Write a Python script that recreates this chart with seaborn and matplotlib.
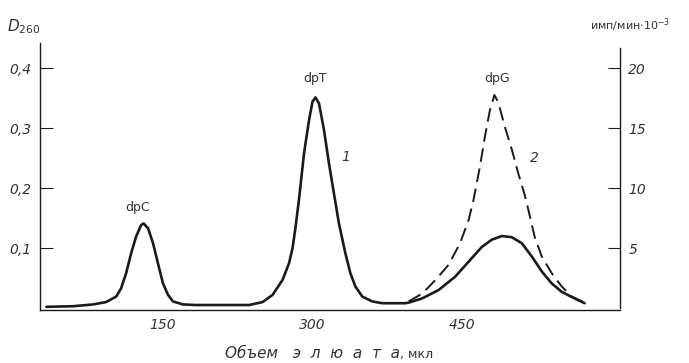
import seaborn as sns
import matplotlib.pyplot as plt

# Кривая 1: оптическая плотность D260 (левая ось)
vol_1 = [33, 60, 80, 93, 103, 108, 113, 118, 123, 128, 130.5, 135, 140, 145, 150,
         155, 160, 170, 183, 210, 236.5, 250, 260, 270, 276.5, 280, 283, 286.5,
         291.5, 296.5, 300, 303, 306.5, 311.5, 316.5, 321.5, 326.5, 333, 338, 343,
         350, 360, 370, 393, 396.5, 410, 426.5, 443, 456.5, 470, 480, 490, 500,
         510, 520, 530, 540, 550, 563, 573]
d260 = [0.002, 0.003, 0.006, 0.010, 0.019, 0.033, 0.058, 0.091, 0.119, 0.138,
        0.141, 0.133, 0.108, 0.074, 0.041, 0.022, 0.011, 0.006, 0.005, 0.005,
        0.005, 0.010, 0.022, 0.047, 0.075, 0.100, 0.135, 0.182, 0.258, 0.313,
        0.344, 0.351, 0.341, 0.297, 0.241, 0.191, 0.141, 0.091, 0.058, 0.036,
        0.019, 0.011, 0.008, 0.008, 0.009, 0.016, 0.030, 0.052, 0.077, 0.102,
        0.114, 0.120, 0.118, 0.108, 0.086, 0.061, 0.041, 0.027, 0.016, 0.008]

# Кривая 2: радиоактивность, имп/мин·10^-3 (правая ось)
vol_2 = [396.5, 410, 423, 436.5, 448, 456.5, 461.5, 468, 473, 478, 482.5, 486.5,
         493, 500, 506.5, 513, 516.5, 523, 530, 540, 550, 560, 573]
imp = [0.55, 1.2, 2.3, 3.6, 5.4, 7.3, 9.0, 11.8, 14.3, 16.5, 17.75, 17.1,
       15.1, 13.2, 11.2, 9.4, 8.2, 5.9, 4.3, 2.9, 1.8, 0.95, 0.45]

x_ticks = [150, 300, 450]
left_ticks = [0.1, 0.2, 0.3, 0.4]
left_labels = ['0,1', '0,2', '0,3', '0,4']
right_ticks = [5, 10, 15, 20]

sns.set_style('white')
plt.rcParams['font.family'] = ['DejaVu Sans']
ink = '#1a1a1a'
txt = '#333333'

fig = plt.figure(figsize=(6.89, 3.63), dpi=100)
ax = fig.add_axes([40 / 689, 1 - 310 / 363, 580 / 689, 267 / 363])
sns.lineplot(x=vol_1, y=d260, ax=ax, color=ink, lw=1.9, sort=False, estimator=None)
ax.set_xlim(26.6, 608.5)
ax.set_ylim(-0.0033, 0.4417)

ax2 = ax.twinx()
sns.lineplot(x=vol_2, y=imp, ax=ax2, color=ink, lw=1.4, linestyle=(0, (7, 3.5)),
             sort=False, estimator=None)
ax2.set_ylim(-0.0033 * 50, 0.4417 * 50)

# оси
for s in ['top', 'right']:
    ax.spines[s].set_visible(False)
for s in ['top', 'left', 'bottom']:
    ax2.spines[s].set_visible(False)
ax2.spines['right'].set_bounds(0, 21.67)
for s in ['left', 'bottom']:
    ax.spines[s].set_color(ink)
    ax.spines[s].set_linewidth(1.0)
ax2.spines['right'].set_color(ink)
ax2.spines['right'].set_linewidth(1.0)

ax.set_xticks(x_ticks, [str(v) for v in x_ticks], fontstyle='italic')
ax.set_yticks(left_ticks, left_labels, fontstyle='italic')
ax2.set_yticks(right_ticks, [str(v) for v in right_ticks], fontstyle='italic')
ax.tick_params(axis='both', direction='in', length=9, width=0.8, color=ink,
               labelsize=10, labelcolor=txt, pad=6)
ax2.tick_params(axis='y', direction='in', length=9, width=0.8, color=ink,
                labelsize=10, labelcolor=txt, pad=6)
ax.set_xlabel('')
ax.set_ylabel('')
ax2.set_ylabel('')

# подписи пиков
ax.text(124, 0.167, 'dpC', ha='center', va='center', fontsize=9, color=txt)
ax.text(302.5, 0.383, 'dpT', ha='center', va='center', fontsize=9, color=txt)
ax.text(485, 0.383, 'dpG', ha='center', va='center', fontsize=9, color=txt)
ax.text(333.6, 0.252, '1', ha='center', va='center', fontsize=10,
        fontstyle='italic', color=txt)
ax.text(523, 0.25, '2', ha='center', va='center', fontsize=10,
        fontstyle='italic', color=txt)

# заголовки осей
fig.text(7 / 689, 1 - 27 / 363, r'$D_{\mathit{260}}$', ha='left', va='center',
         fontsize=11, color=txt)
fig.text(630 / 689, 1 - 25 / 363, r'имп/мин$\cdot\mathit{10}^{-3}$', ha='center',
         va='center', fontsize=8, color=txt)
xl = fig.text(225 / 689, 1 - 354 / 363, 'Объем   э  л  ю  а  т  а', ha='left',
              va='center', fontsize=11, fontstyle='italic', color=txt)
fig.text(0, 0, '')
ax.annotate(', мкл', xy=(1, 0.45), xycoords=xl, ha='left', va='center',
            fontsize=9, color=txt, annotation_clip=False)

fig.savefig('out.png', dpi=100)
